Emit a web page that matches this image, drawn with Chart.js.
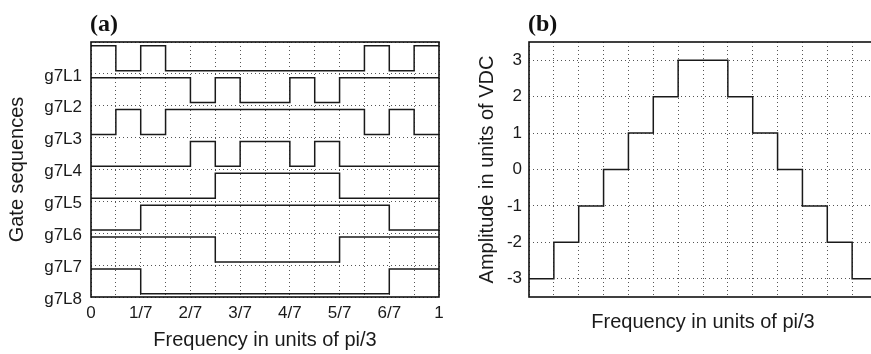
<!DOCTYPE html>
<html>
<head>
<meta charset="utf-8">
<script src="https://cdn.jsdelivr.net/npm/chart.js@4/dist/chart.umd.min.js"></script>
<style>
  html, body { margin: 0; padding: 0; background: #fff; overflow: hidden; width: 871px; height: 354px; }
  canvas { position: absolute; top: 0; }
  #gateChart { left: 0; }
  #ampChart { left: 440px; }
</style>
</head>
<body>
<canvas id="gateChart" width="450" height="354"></canvas>
<canvas id="ampChart" width="440" height="354"></canvas>
<script>
  // gate states per 1/14 slot (1 = high)
  const gateNames = ["g7L1", "g7L2", "g7L3", "g7L4", "g7L5", "g7L6", "g7L7", "g7L8"];
  const g7L1 = [1, 0, 1, 0, 0, 0, 0, 0, 0, 0, 0, 1, 0, 1];
  const g7L2 = [1, 1, 1, 1, 0, 1, 0, 0, 1, 0, 1, 1, 1, 1];
  const g7L3 = [0, 1, 0, 1, 1, 1, 1, 1, 1, 1, 1, 0, 1, 0];
  const g7L4 = [0, 0, 0, 0, 1, 0, 1, 1, 0, 1, 0, 0, 0, 0];
  const g7L5 = [0, 0, 0, 0, 0, 1, 1, 1, 1, 1, 0, 0, 0, 0];
  const g7L6 = [0, 0, 1, 1, 1, 1, 1, 1, 1, 1, 1, 1, 0, 0];
  const g7L7 = [1, 1, 1, 1, 1, 0, 0, 0, 0, 0, 1, 1, 1, 1];
  const g7L8 = [1, 1, 0, 0, 0, 0, 0, 0, 0, 0, 0, 0, 1, 1];

  // output level per slot, in units of VDC
  const amplitude = [-3, -2, -1, 0, 1, 2, 3, 3, 2, 1, 0, -1, -2, -3];

  const freqLabels = ["0", "", "1/7", "", "2/7", "", "3/7", "", "4/7", "", "5/7", "", "6/7", "", "1"];
  const ampTicks = [-3, -2, -1, 0, 1, 2, 3];

  const gates = [g7L1, g7L2, g7L3, g7L4, g7L5, g7L6, g7L7, g7L8];
  const FONT = '"Liberation Sans", Arial, Helvetica, sans-serif';
  const INK = "#1a1a1a";
  const HI = 0.88, LO = 0.1;

  function stepPoints(states, toY) {
    const pts = states.map((s, k) => ({ x: k, y: toY(s) }));
    pts.push({ x: states.length, y: toY(states[states.length - 1]) });
    return pts;
  }

  const framePlugin = {
    id: "frame",
    afterDraw(chart, args, opts) {
      const { ctx, chartArea: a } = chart;
      ctx.save();
      ctx.strokeStyle = "#111";
      ctx.lineWidth = 1.6;
      ctx.strokeRect(a.left, a.top, a.width, a.height);
      ctx.fillStyle = "#111";
      ctx.font = 'bold 24px "Liberation Serif", "Times New Roman", serif';
      ctx.textBaseline = "alphabetic";
      ctx.fillText(opts.label, a.left - 1, 31);
      ctx.restore();
    }
  };

  const dotted = { color: "#555", lineWidth: 1, drawTicks: false };
  const noBorder = { display: false, dash: [1, 3] };

  Chart.defaults.font.family = FONT;
  Chart.defaults.color = INK;

  const gateData = {
    datasets: gates.map((g, i) => {
      const base = 7 - i;
      return {
        label: gateNames[i],
        data: stepPoints(g, s => base + (s ? HI : LO)),
        stepped: true,
        borderColor: INK,
        borderWidth: 1.5,
        pointRadius: 0,
        fill: false,
      };
    }),
  };

  const gateChart = new Chart(document.getElementById("gateChart"), {
    type: "line",
    data: gateData,
    plugins: [framePlugin],
    options: {
      responsive: false,
      animation: false,
      devicePixelRatio: 1,
      layout: { padding: { top: 42, right: 11, left: 0, bottom: 0 } },
      plugins: { legend: { display: false }, tooltip: { enabled: false }, frame: { label: "(a)" } },
      scales: {
        x: {
          type: "linear",
          min: 0,
          max: 14,
          grid: dotted,
          border: noBorder,
          afterBuildTicks: s => { s.ticks = freqLabels.map((_, k) => ({ value: k })); },
          afterFit: s => { s.height = 57; },
          ticks: {
            padding: 6,
            maxRotation: 0,
            autoSkip: false,
            font: { size: 17 },
            callback: (v) => freqLabels[v],
          },
          title: {
            display: true,
            text: "Frequency in units of pi/3",
            font: { size: 20 },
            padding: { top: 0, bottom: 2 },
          },
        },
        y: {
          type: "linear",
          min: 0,
          max: 8,
          grid: dotted,
          border: noBorder,
          afterBuildTicks: s => { s.ticks = [0, 1, 2, 3, 4, 5, 6, 7, 8].map(v => ({ value: v })); },
          afterFit: s => { s.width = 91; },
          ticks: {
            padding: 9,
            labelOffset: 2,
            font: { size: 17 },
            callback: (v) => (v >= 0 && v <= 7 ? gateNames[7 - v] : ""),
          },
          title: {
            display: true,
            text: "Gate sequences",
            font: { size: 20 },
            padding: { top: 5, bottom: 0 },
          },
        },
      },
    },
  });

  const ampChart = new Chart(document.getElementById("ampChart"), {
    type: "line",
    data: {
      datasets: [{
        label: "Amplitude",
        data: stepPoints(amplitude, v => v),
        stepped: true,
        borderColor: INK,
        borderWidth: 1.5,
        pointRadius: 0,
        fill: false,
      }],
    },
    plugins: [framePlugin],
    options: {
      responsive: false,
      animation: false,
      devicePixelRatio: 1,
      layout: { padding: { top: 42, right: 3, left: 0, bottom: 0 } },
      plugins: { legend: { display: false }, tooltip: { enabled: false }, frame: { label: "(b)" } },
      scales: {
        x: {
          type: "linear",
          min: 0,
          max: 14,
          grid: dotted,
          border: noBorder,
          afterBuildTicks: s => { s.ticks = amplitude.concat([0]).map((_, k) => ({ value: k })); },
          afterFit: s => { s.height = 57; },
          ticks: { display: false },
          title: {
            display: true,
            text: "Frequency in units of pi/3",
            font: { size: 20 },
            padding: { top: 0, bottom: 20 },
          },
        },
        y: {
          type: "linear",
          min: -3.5,
          max: 3.5,
          grid: dotted,
          border: noBorder,
          afterBuildTicks: s => { s.ticks = ampTicks.map(v => ({ value: v })); },
          afterFit: s => { s.width = 89; },
          ticks: { padding: 7, font: { size: 17 } },
          title: {
            display: true,
            text: "Amplitude in units of VDC",
            font: { size: 20 },
            padding: { top: 35, bottom: 0 },
          },
        },
      },
    },
  });
</script>
</body>
</html>
